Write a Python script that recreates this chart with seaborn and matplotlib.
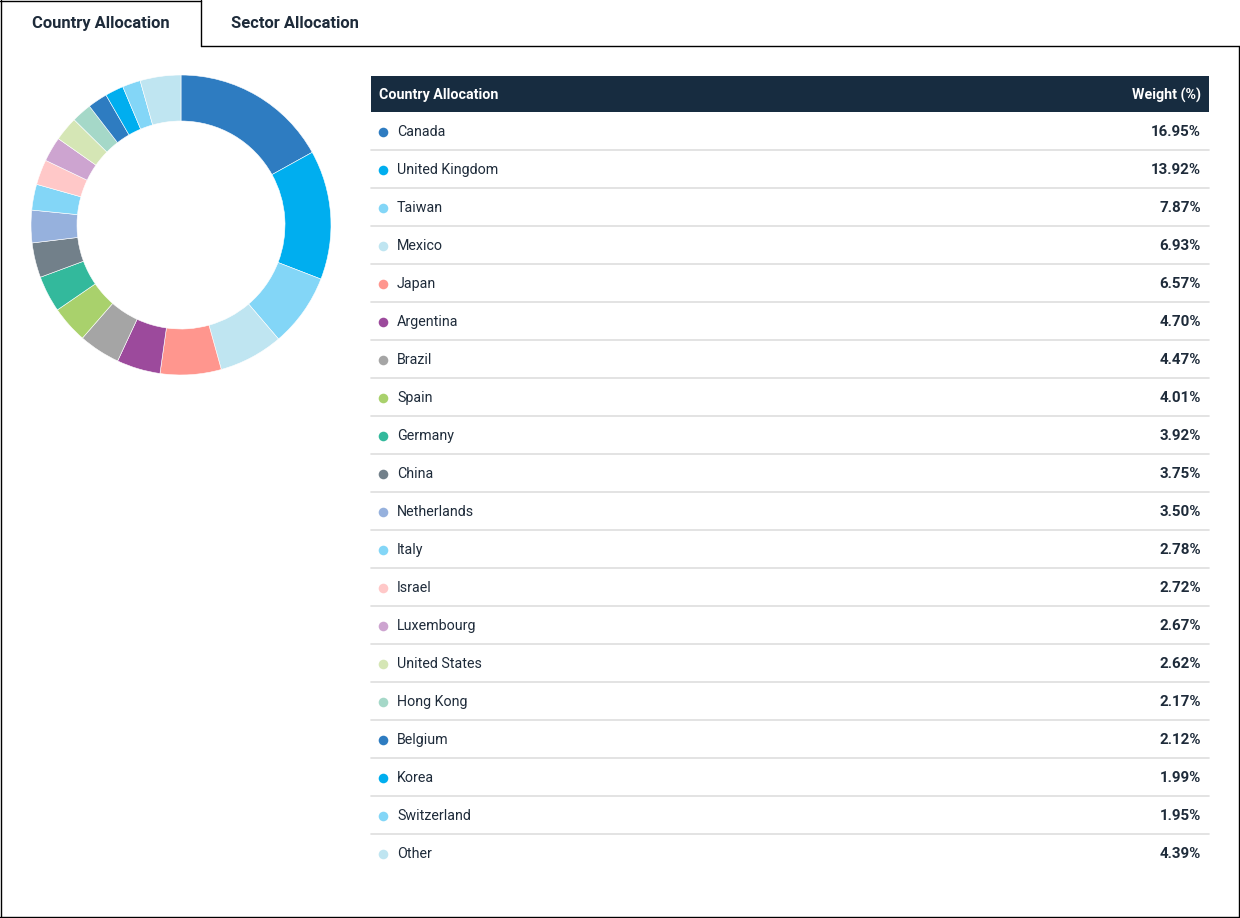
import matplotlib
matplotlib.use("Agg")
import matplotlib.pyplot as plt
import seaborn as sns
import pandas as pd

countries = ["Canada", "United Kingdom", "Taiwan", "Mexico", "Japan", "Argentina",
             "Brazil", "Spain", "Germany", "China", "Netherlands", "Italy", "Israel",
             "Luxembourg", "United States", "Hong Kong", "Belgium", "Korea",
             "Switzerland", "Other"]
weights = [16.95, 13.92, 7.87, 6.93, 6.57, 4.70, 4.47, 4.01, 3.92, 3.75, 3.50,
           2.78, 2.72, 2.67, 2.62, 2.17, 2.12, 1.99, 1.95, 4.39]
colors = ["#2E7CC1", "#00AEEF", "#83D6F7", "#BFE5F1", "#FF968E", "#9C4A9C",
          "#A5A5A5", "#A9D16C", "#33B99C", "#72808A", "#96B1DD", "#83D6F7",
          "#FFC8C8", "#CDA4D0", "#D5E6B5", "#A5D8C8", "#2E7CC1", "#00AEEF",
          "#83D6F7", "#BFE5F1"]
tabs = ["Country Allocation", "Sector Allocation"]
header = ["Country Allocation", "Weight (%)"]

sns.set_theme(style="white")
plt.rcParams['font.family'] = ['Roboto', 'DejaVu Sans']

W, H = 1240, 918
fig = plt.figure(figsize=(W / 100, H / 100), dpi=100)
fig.patch.set_facecolor("white")

# full-figure pixel axes
ax = fig.add_axes([0, 0, 1, 1])
ax.set_xlim(0, W)
ax.set_ylim(H, 0)
ax.axis("off")

txt = "#1E2B3A"
lc = "black"
# frame with tabs
ax.plot([0.5, 0.5], [0, 917], color=lc, lw=1)
ax.plot([0, 200.5], [0.5, 0.5], color=lc, lw=1)
ax.plot([200.5, 200.5], [0, 45.5], color=lc, lw=1)
ax.plot([200.5, 1238.5], [45.5, 45.5], color=lc, lw=1)
ax.plot([1238.5, 1238.5], [45.5, 917], color=lc, lw=1)
ax.plot([0, 1238.5], [916.5, 916.5], color=lc, lw=1)
ax.text(101, 23.5, tabs[0], ha="center", va="center", fontsize=11.9,
        fontweight="bold", color=txt)
ax.text(295, 23.5, tabs[1], ha="center", va="center", fontsize=11.9,
        fontweight="bold", color=txt)

# table header
x0, x1 = 371, 1209
ax.add_patch(plt.Rectangle((x0, 76), x1 - x0, 36, color="#172C40", lw=0))
ax.text(379, 95, header[0], ha="left", va="center", fontsize=10.3,
        fontweight="bold", color="white")
ax.text(1201, 95, header[1], ha="right", va="center", fontsize=10.3,
        fontweight="bold", color="white")

row_h = 38
top = 112
centers = [top + row_h * i + row_h / 2 for i in range(len(countries))]
for i, (c, w) in enumerate(zip(countries, weights)):
    yc = centers[i] + 1
    ax.text(397, yc, c, ha="left", va="center", fontsize=10.3, color=txt)
    ax.text(1201, yc, f"{w:.2f}%", ha="right", va="center", fontsize=10.9,
            fontweight="bold", color=txt)
    if i < len(countries) - 1:
        ax.plot([x0, x1], [top + row_h * (i + 1)] * 2, color="#DEDEDE", lw=1.2)

df = pd.DataFrame({"country": countries, "x": [383.5] * len(countries),
                   "y": [c + 1.5 for c in centers]})
sns.scatterplot(data=df, x="x", y="y", hue="country",
                palette=dict(zip(countries, colors)), s=48, edgecolor="none",
                legend=False, ax=ax)
ax.set_xlim(0, W)
ax.set_ylim(H, 0)
ax.axis("off")

# donut
cx, cy, R, r_in = 181, 225, 150, 104
axd = fig.add_axes([(cx - R) / W, (H - cy - R) / H, 2 * R / W, 2 * R / H])
axd.pie(weights, colors=colors, startangle=90, counterclock=False, radius=1,
        wedgeprops=dict(width=(R - r_in) / R, edgecolor="white", linewidth=0.4))
axd.set_xlim(-1, 1)
axd.set_ylim(-1, 1)
axd.set_aspect("equal")
axd.axis("off")

fig.savefig("out.png", dpi=100)
